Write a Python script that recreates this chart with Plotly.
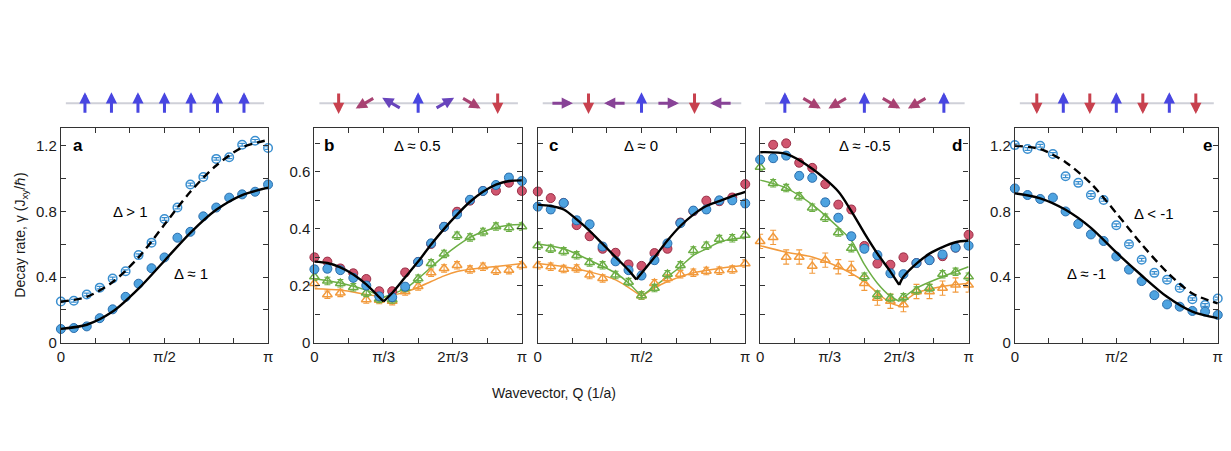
import math
import plotly.graph_objects as go

W, H = 1231, 451
PI = math.pi

# ---------------- data ----------------
# sample wavevectors: Q = k * pi / 16
k_idx = list(range(17))

# panel a (ferromagnet, Delta >= 1)
a_open = [0.252, 0.256, 0.294, 0.336, 0.392, 0.436, 0.534, 0.61, 0.754, 0.824, 0.964, 1.01, 1.12, 1.13, 1.206, 1.23, 1.186]
a_fill = [0.084, 0.09, 0.10, 0.15, 0.204, 0.28, 0.36, 0.454, 0.52, 0.64, 0.676, 0.77, 0.824, 0.884, 0.904, 0.92, 0.964]
a_dash_q = [0, 0.125, 0.25, 0.375, 0.5, 0.625, 0.75, 0.875, 1]
a_dash_v = [0.25, 0.28, 0.37, 0.52, 0.72, 0.92, 1.08, 1.19, 1.235]
a_solid_q = [0, 0.125, 0.25, 0.375, 0.5, 0.625, 0.75, 0.875, 1]
a_solid_v = [0.085, 0.11, 0.19, 0.33, 0.5, 0.67, 0.81, 0.9, 0.945]

# panel b (Delta ~ 0.5)
b_red = [0.30, 0.285, 0.261, 0.244, 0.224, 0.181, 0.181, 0.247, 0.284, 0.347, 0.407, 0.460, 0.499, 0.533, 0.534, 0.562, 0.533]
b_blue = [0.258, 0.26, 0.255, 0.228, 0.201, 0.163, 0.160, 0.197, 0.284, 0.349, 0.407, 0.451, 0.502, 0.533, 0.554, 0.580, 0.568]
b_green = [0.232, 0.217, 0.209, 0.195, 0.175, 0.154, 0.152, 0.192, 0.225, 0.279, 0.312, 0.376, 0.370, 0.389, 0.408, 0.404, 0.408]
b_orange = [0.209, 0.169, 0.175, None, 0.152, 0.15, 0.146, 0.18, 0.198, 0.246, 0.261, 0.272, 0.257, 0.267, 0.253, 0.255, 0.272]
b_black_q = [0, 0.0625, 0.125, 0.1875, 0.25, 0.3125, 1/3, None, 1/3, 0.375, 0.4375, 0.5, 0.5625, 0.625, 0.6875, 0.75, 0.8125, 0.875, 0.9375, 1]
b_black_v = [0.285, 0.28, 0.265, 0.24, 0.205, 0.16, 0.145, None, 0.145, 0.175, 0.23, 0.285, 0.345, 0.40, 0.45, 0.495, 0.53, 0.555, 0.568, 0.57]
b_green_q = [0, 0.125, 0.25, 1/3, None, 1/3, 0.4375, 0.5, 0.5625, 0.625, 0.6875, 0.75, 0.8125, 0.875, 0.9375, 1]
b_green_v = [0.225, 0.21, 0.185, 0.16, None, 0.16, 0.19, 0.225, 0.265, 0.305, 0.34, 0.37, 0.39, 0.405, 0.413, 0.415]
b_orange_q = [0, 0.125, 0.25, 1/3, None, 1/3, 0.4375, 0.5, 0.5625, 0.625, 0.6875, 0.75, 0.875, 1]
b_orange_v = [0.19, 0.185, 0.17, 0.16, None, 0.16, 0.178, 0.195, 0.215, 0.235, 0.25, 0.258, 0.268, 0.278]

# panel c (Delta ~ 0)
c_red = [0.531, 0.508, 0.491, 0.413, 0.374, 0.330, 0.316, 0.275, 0.270, 0.315, 0.330, 0.422, 0.462, 0.499, 0.497, 0.510, 0.557]
c_blue = [0.478, 0.468, 0.491, 0.430, 0.416, 0.338, 0.286, 0.255, 0.236, 0.290, 0.349, 0.420, 0.464, 0.468, 0.500, 0.500, 0.489]
c_green = [0.341, 0.330, 0.321, 0.307, 0.282, 0.272, 0.238, 0.213, 0.166, 0.192, 0.241, 0.272, 0.324, 0.341, 0.364, 0.367, 0.378]
c_orange = [0.272, 0.267, 0.259, 0.261, 0.238, 0.226, None, None, 0.166, 0.209, 0.226, 0.241, 0.246, 0.252, 0.253, 0.257, 0.278]
c_black_q = [0, 0.0625, 0.125, 0.1875, 0.25, 0.3125, 0.375, 0.4375, 0.475, None, 0.475, 0.5625, 0.625, 0.6875, 0.75, 0.8125, 0.875, 0.9375, 1]
c_black_v = [0.485, 0.48, 0.468, 0.433, 0.393, 0.347, 0.301, 0.255, 0.222, None, 0.222, 0.30, 0.359, 0.41, 0.45, 0.48, 0.497, 0.515, 0.53]
c_green_q = [0, 0.125, 0.25, 0.375, 0.4375, 0.5, None, 0.5, 0.5625, 0.625, 0.6875, 0.75, 0.8125, 0.875, 0.9375, 1]
c_green_v = [0.347, 0.33, 0.29, 0.245, 0.21, 0.163, None, 0.163, 0.198, 0.232, 0.267, 0.307, 0.33, 0.353, 0.364, 0.37]
c_orange_q = [0, 0.125, 0.25, 0.375, 0.5, None, 0.5, 0.5625, 0.625, 0.6875, 0.75, 0.875, 1]
c_orange_v = [0.278, 0.267, 0.249, 0.221, 0.163, None, 0.163, 0.192, 0.215, 0.232, 0.246, 0.261, 0.272]

# panel d (Delta ~ -0.5)
d_red = [None, 0.695, 0.700, 0.632, 0.614, 0.557, 0.485, 0.468, 0.340, 0.278, 0.274, 0.300, 0.280, 0.291, 0.304, 0.334, 0.379]
d_blue = [0.643, 0.648, 0.657, 0.586, 0.579, 0.493, 0.439, 0.374, 0.330, 0.308, 0.244, 0.241, 0.280, 0.290, 0.310, 0.334, 0.341]
d_green = [0.617, 0.560, 0.543, 0.514, 0.474, 0.439, 0.387, 0.332, 0.232, 0.169, 0.157, 0.160, 0.184, 0.192, 0.241, 0.249, 0.232]
d_orange = [0.356, 0.370, 0.301, 0.301, 0.269, 0.290, 0.267, 0.261, 0.209, 0.157, 0.146, 0.134, 0.180, 0.180, 0.192, 0.203, 0.203]
d_black_q = [0, 0.125, 0.25, 0.375, 0.4375, 0.5, 0.5625, 0.625, 0.667, None, 0.667, 0.6875, 0.75, 0.8125, 0.875, 0.9375, 1]
d_black_v = [0.669, 0.663, 0.611, 0.531, 0.462, 0.385, 0.313, 0.25, 0.203, None, 0.203, 0.232, 0.278, 0.313, 0.336, 0.353, 0.359]
d_green_q = [0, 0.125, 0.25, 0.375, 0.4375, 0.5, 0.5625, 0.625, 0.667, None, 0.667, 0.75, 0.875, 1]
d_green_v = [0.571, 0.543, 0.485, 0.405, 0.359, 0.275, 0.209, 0.163, 0.146, None, 0.146, 0.192, 0.232, 0.267]
d_orange_q = [0, 0.125, 0.25, 0.375, 0.5, 0.5625, 0.625, 0.667, None, 0.667, 0.75, 0.875, 1]
d_orange_v = [0.341, 0.318, 0.301, 0.267, 0.215, 0.175, 0.14, 0.129, None, 0.129, 0.175, 0.198, 0.209]

# panel e (antiferromagnet, Delta <= -1)
e_open = [1.204, 1.18, 1.2, 1.15, 1.014, 0.974, 0.9, 0.87, 0.716, 0.6, 0.506, 0.426, 0.384, 0.334, 0.266, 0.23, 0.27]
e_fill = [0.94, 0.9, 0.876, 0.884, 0.8, 0.724, 0.66, 0.62, 0.526, 0.446, 0.376, 0.29, 0.234, 0.22, 0.194, 0.19, 0.17]
e_dash_q = [0, 0.125, 0.25, 0.375, 0.5, 0.625, 0.75, 0.875, 1]
e_dash_v = [1.2, 1.18, 1.1, 0.97, 0.79, 0.6, 0.43, 0.3, 0.24]
e_solid_q = [0, 0.125, 0.25, 0.375, 0.5, 0.625, 0.75, 0.875, 1]
e_solid_v = [0.91, 0.88, 0.81, 0.70, 0.55, 0.41, 0.28, 0.19, 0.15]

# error bar half-widths
err_circle = 0.012
err_tri = 0.013
err_tri_d_orange = 0.025
err_open = 0.008

# spin-helix wavevector (units of pi) sketched above each panel
spin_q = [0, 1/3, 1/2, 2/3, 1]
panel_letters = ["a", "b", "c", "d", "e"]
delta_labels = ["Δ ≈ 0.5", "Δ ≈ 0", "Δ ≈ -0.5"]

# x tick labels (ticks every pi/6)
xt_half = ["0", "", "", "π/2", "", "", "π"]
xt_third = ["0", "", "π/3", "", "2π/3", "", "π"]

# ---------------- styling / layout ----------------
FONT = "Liberation Sans, Arial, Helvetica, sans-serif"
YOFF = 5.0
PANEL_PX = [(57.3, 266.0), (312.7, 521.7), (537.7, 746.7), (761.7, 971.7), (1018.3, 1222.7)]
YTOP, YBOT = 125.0 + YOFF, 344.0 + YOFF
BLUE_F, BLUE_L = "#4ea3e0", "#2c6fae"
RED_F, RED_L = "#d0566f", "#9b3048"
GREEN = "#6cae45"
ORANGE = "#f29a3c"
AX = "#333333"

fig = go.Figure()

def xs(ax):
    return "x" if ax == 1 else f"x{ax}"

def ys(ax):
    return "y" if ax == 1 else f"y{ax}"

def qx(qlist):
    return [None if q is None else q * PI for q in qlist]

kx = [k * PI / 16 for k in k_idx]

def line(ax, q, v, color, width, dash="solid"):
    fig.add_trace(go.Scatter(x=qx(q), y=v, mode="lines", xaxis=xs(ax), yaxis=ys(ax),
                             line=dict(color=color, width=width, dash=dash, shape="spline", smoothing=0.8),
                             connectgaps=False, hoverinfo="skip", cliponaxis=False))

def pts(ax, v, symbol, fill, edge, size, ew, err):
    fig.add_trace(go.Scatter(x=kx, y=v, mode="markers", xaxis=xs(ax), yaxis=ys(ax),
                             marker=dict(symbol=symbol, size=size, color=fill, line=dict(color=edge, width=ew)),
                             error_y=dict(type="constant", value=err, color=edge, thickness=1.1, width=3),
                             cliponaxis=False))

def open_pts(ax, v, edge, err):
    fig.add_trace(go.Scatter(x=kx, y=v, mode="markers", xaxis=xs(ax), yaxis=ys(ax),
                             marker=dict(symbol="circle", size=8.5, color="white", line=dict(color=edge, width=1.5)),
                             cliponaxis=False))
    # error bars drawn on top of the hollow markers
    fig.add_trace(go.Scatter(x=kx, y=v, mode="markers", xaxis=xs(ax), yaxis=ys(ax),
                             marker=dict(size=1, color="rgba(0,0,0,0)"),
                             error_y=dict(type="constant", value=err, color=edge, thickness=1.2, width=3),
                             cliponaxis=False, hoverinfo="skip"))

# panel a
open_pts(1, a_open, "#3a8fd0", err_open)
pts(1, a_fill, "circle", BLUE_F, BLUE_L, 9, 1, err_circle)
line(1, a_dash_q, a_dash_v, "black", 2.4, "8px,5px")
line(1, a_solid_q, a_solid_v, "black", 2.4)

# panels b, c, d
for ax, red, blue, green, orange, bq, bv, gq, gv, oq, ov, oerr in [
    (2, b_red, b_blue, b_green, b_orange, b_black_q, b_black_v, b_green_q, b_green_v, b_orange_q, b_orange_v, err_tri),
    (3, c_red, c_blue, c_green, c_orange, c_black_q, c_black_v, c_green_q, c_green_v, c_orange_q, c_orange_v, err_tri),
    (4, d_red, d_blue, d_green, d_orange, d_black_q, d_black_v, d_green_q, d_green_v, d_orange_q, d_orange_v, err_tri_d_orange),
]:
    line(ax, oq, ov, ORANGE, 1.5)
    line(ax, gq, gv, GREEN, 1.5)
    pts(ax, orange, "triangle-up-open", ORANGE, ORANGE, 8.5, 1.5, oerr)
    pts(ax, green, "triangle-up-open", GREEN, GREEN, 8.5, 1.5, err_tri)
    pts(ax, red, "circle", RED_F, RED_L, 9, 1, err_circle)
    pts(ax, blue, "circle", BLUE_F, BLUE_L, 9, 1, err_circle)
    line(ax, bq, bv, "black", 2.4)

# panel e
open_pts(5, e_open, "#3a8fd0", err_open)
pts(5, e_fill, "circle", BLUE_F, BLUE_L, 9, 1, err_circle)
line(5, e_dash_q, e_dash_v, "black", 2.4, "8px,5px")
line(5, e_solid_q, e_solid_v, "black", 2.4)

tickvals_x = [i * PI / 6 for i in range(7)]
axis_common = dict(showline=True, linecolor=AX, linewidth=1.2, mirror="ticks", ticks="inside",
                   ticklen=5, tickcolor=AX, tickwidth=1, showgrid=False, zeroline=False,
                   tickfont=dict(family=FONT, size=15, color="#1a1a1a"))

layout = dict(width=W, height=H, margin=dict(l=0, r=0, t=0, b=0), paper_bgcolor="white",
              plot_bgcolor="white", showlegend=False)
ydom = [1 - YBOT / H, 1 - YTOP / H]
for i, (L, R) in enumerate(PANEL_PX):
    n = i + 1
    xkey = "xaxis" if n == 1 else f"xaxis{n}"
    ykey = "yaxis" if n == 1 else f"yaxis{n}"
    xtext = xt_third if n in (2, 4) else xt_half
    layout[xkey] = dict(axis_common, domain=[L / W, R / W], range=[0, PI], tickvals=tickvals_x,
                        ticktext=xtext, anchor=ys(n))
    if n in (1, 5):
        ydict = dict(range=[0, 1.31], tickvals=[0, 0.2, 0.4, 0.6, 0.8, 1.0, 1.2],
                     ticktext=["0", "", "0.4", "", "0.8", "", "1.2"])
    else:
        ydict = dict(range=[0, 0.755], tickvals=[0, 0.1, 0.2, 0.3, 0.4, 0.5, 0.6, 0.7],
                     ticktext=["0", "", "0.2", "", "0.4", "", "0.6", ""], showticklabels=(n == 2))
    layout[ykey] = dict(axis_common, domain=ydom, anchor=xs(n), **ydict)
fig.update_layout(**layout)

ann = []
shapes = []

def label(px, py, text, size, color="black", angle=0):
    ann.append(dict(x=px / W, y=1 - (py + YOFF) / H, xref="paper", yref="paper", text=text,
                    xanchor="center", yanchor="middle", textangle=angle, showarrow=False,
                    font=dict(family=FONT, size=size, color=color)))

# panel letters
letter_pos = [(75, 143), (327, 143), (554, 143), (960, 143), (1212, 143)]
for letter, (px, py) in zip(panel_letters, letter_pos):
    label(px, py, f"<b>{letter}</b>", 17)
# Delta labels
for txt, (px, py) in zip(delta_labels, [(417, 143), (642, 143), (867, 143)]):
    label(px, py, txt, 15)
for txt, (px, py) in [("Δ > 1", (127, 210)), ("Δ ≈ 1", (188, 273)), ("Δ < -1", (1158, 212)), ("Δ ≈ -1", (1090, 273))]:
    label(px, py, txt, 15)
# axis titles
label(17, 234, "Decay rate, γ (J<sub>xy</sub>/ℏ)", 14, "#1a1a1a", -90)
label(554, 395, "Wavevector, Q (1/a)", 14, "#1a1a1a")

# spin chains above the panels
SPIN_Y = 100.0 + YOFF
SPACING = 26.7
ALEN = 22.0
for (L, R), sq in zip(PANEL_PX, spin_q):
    cx = (L + R) / 2
    shapes.append(dict(type="line", xref="paper", yref="paper", x0=(L + 5) / W, x1=(R - 4) / W,
                       y0=1 - SPIN_Y / H, y1=1 - SPIN_Y / H, layer="below",
                       line=dict(color="#cfd0d8", width=2)))
    for j in range(7):
        th = (j - 3) * sq * PI
        c = math.cos(th)
        t = (1 - c) / 2
        r = int(72 + t * (200 - 72))
        g = int(70 - t * 5)
        b = int(225 + t * (78 - 225))
        col = f"rgb({r},{g},{b})"
        sx, sy = math.sin(th), math.cos(th)
        hx = cx + (j - 3) * SPACING + ALEN / 2 * sx
        hy = SPIN_Y - ALEN / 2 * sy
        ann.append(dict(x=hx / W, y=1 - hy / H, xref="paper", yref="paper", text="",
                        showarrow=True, ax=-ALEN * sx, ay=ALEN * sy, arrowhead=2,
                        arrowsize=0.75, arrowwidth=3.0, arrowcolor=col, standoff=0, startstandoff=0))

fig.update_layout(annotations=ann, shapes=shapes)

fig.write_html("out.html", config={"displayModeBar": False},
               post_script="document.body.style.margin='0px';")
